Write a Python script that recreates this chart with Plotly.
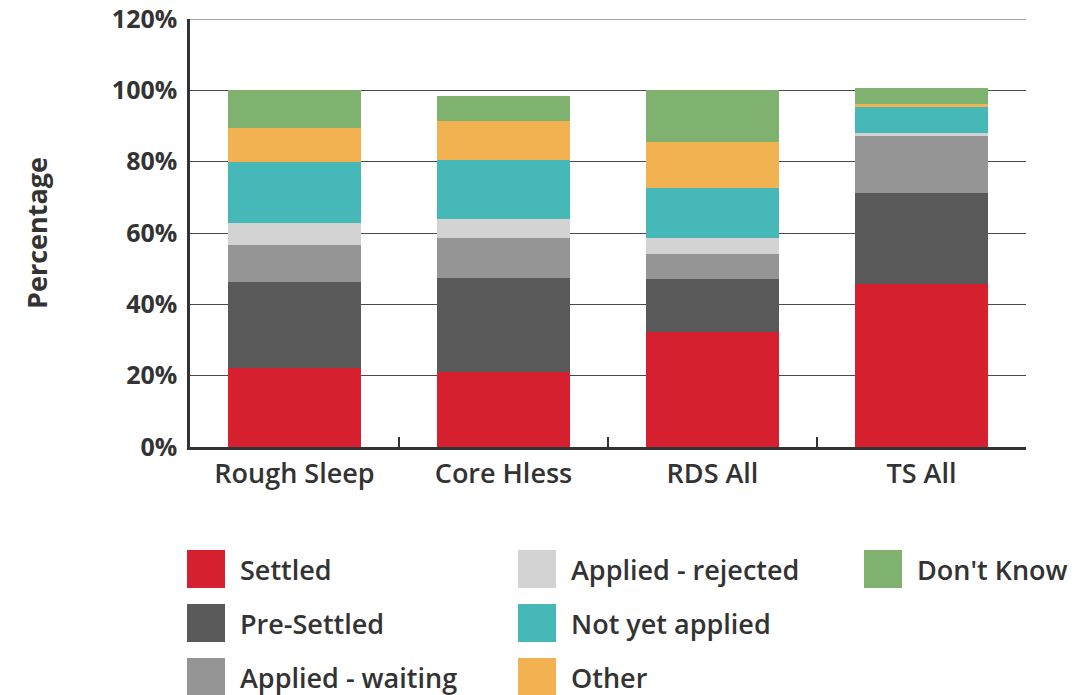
import plotly.graph_objects as go

categories = ["Rough Sleep", "Core Hless", "RDS All", "TS All"]
series_names = ["Settled", "Pre-Settled", "Applied - waiting", "Applied - rejected",
                "Not yet applied", "Other", "Don't Know"]
settled = [22.1, 21.0, 32.2, 45.8]
pre_settled = [24.1, 26.3, 14.8, 25.3]
applied_waiting = [10.4, 11.2, 7.0, 16.3]
applied_rejected = [6.2, 5.3, 4.5, 0.5]
not_yet_applied = [17.1, 16.6, 14.0, 7.3]
other = [9.5, 10.9, 12.9, 1.1]
dont_know = [10.7, 7.0, 14.6, 4.3]
y_ticks = [0, 20, 40, 60, 80, 100, 120]
y_tick_labels = ["0%", "20%", "40%", "60%", "80%", "100%", "120%"]

series_values = [settled, pre_settled, applied_waiting, applied_rejected,
                 not_yet_applied, other, dont_know]
colors = ["#D6202F", "#585958", "#949594", "#D2D3D2", "#46B8B8", "#F3B251", "#7FB26F"]

FONT = "Open Sans"
TXT = "#333333"
GRID = "#4a4a4a"
W, H = 1081, 695
ML, MR, MT, MB = 190, 55, 19, 248
PW, PH = W - ML - MR, H - MT - MB

fig = go.Figure()
for name, vals, col in zip(series_names, series_values, colors):
    fig.add_trace(go.Bar(x=categories, y=vals, name=name, marker_color=col,
                         marker_line_width=0, showlegend=False))

def px_x(px):
    return (px - ML) / PW

def px_y(py):
    return (H - MB - py) / PH

# top gridline at the range edge (plotly omits grid lines at the plot edge)
shapes = [dict(type="line", xref="paper", yref="y", x0=0, x1=1,
               y0=y_ticks[-1], y1=y_ticks[-1], line=dict(color=GRID, width=1.2),
               layer="below")]
annotations = []

# manual legend (column-major, 3 rows)
col_x = [187, 518, 864]
row_y = [569, 623, 677]
sw = 38
for i, (name, col) in enumerate(zip(series_names, colors)):
    c, r = divmod(i, 3)
    x0, yc = col_x[c], row_y[r]
    shapes.append(dict(type="rect", xref="paper", yref="paper",
                       x0=px_x(x0), x1=px_x(x0 + sw),
                       y0=px_y(yc + sw / 2), y1=px_y(yc - sw / 2),
                       fillcolor=col, line_width=0, layer="above"))
    annotations.append(dict(xref="paper", yref="paper", x=px_x(x0 + sw + 13), y=px_y(yc),
                            text=name, showarrow=False, xanchor="left", yanchor="middle",
                            font=dict(family=FONT, size=27, color=TXT, weight=600)))

fig.update_layout(
    barmode="stack",
    bargap=0.36,
    width=W, height=H,
    margin=dict(l=ML, r=MR, t=MT, b=MB, pad=0, autoexpand=False),
    plot_bgcolor="white", paper_bgcolor="white",
    font=dict(family=FONT, color=TXT),
    shapes=shapes,
    annotations=annotations,
    showlegend=False,
)
fig.update_yaxes(
    range=[0, 120], tickvals=y_ticks, ticktext=y_tick_labels,
    showgrid=True, gridcolor=GRID, gridwidth=1.2,
    zeroline=False, showline=True, linecolor="#333333", linewidth=2.5,
    ticks="", ticklabelstandoff=5, automargin=False,
    tickfont=dict(family=FONT, size=25, color=TXT, weight=700),
    title=dict(text="Percentage", standoff=57,
               font=dict(family=FONT, size=27, color=TXT, weight=700)),
)
fig.update_xaxes(
    showline=True, linecolor="#333333", linewidth=3, automargin=False,
    ticks="inside", tickson="boundaries", ticklen=10, tickwidth=2, tickcolor="#333333",
    ticklabelstandoff=1,
    tickfont=dict(family=FONT, size=27, color=TXT, weight=600),
)

fig.write_html("out.html", config={"displayModeBar": False},
               post_script="document.body.style.margin='0';")
